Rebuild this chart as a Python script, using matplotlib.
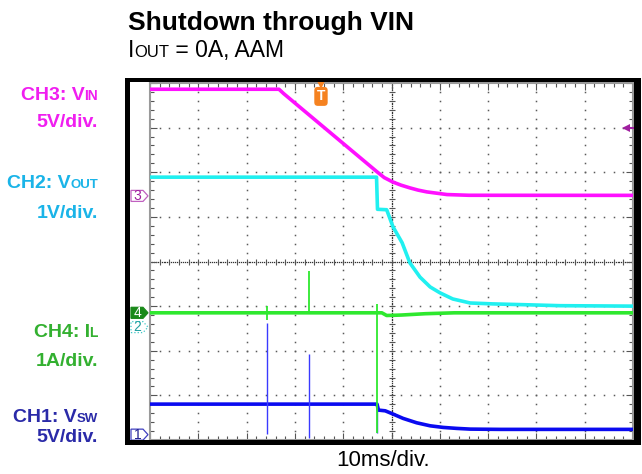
import numpy as np
import matplotlib
matplotlib.use("Agg")
import matplotlib.pyplot as plt
from matplotlib.patches import Rectangle, Polygon
from matplotlib.ticker import MultipleLocator
import matplotlib.transforms as mtransforms

plt.rcParams['font.family'] = ['Liberation Sans', 'DejaVu Sans']

# scope settings: 10 ms/div, 10 x 8 divisions
# channel offsets (div from bottom) and scales (unit per div)
ch3_off, ch3_scale = 5.47, 5.0   # VIN
ch2_off, ch2_scale = 2.53, 1.0   # VOUT
ch4_off, ch4_scale = 2.85, 1.0   # IL
ch1_off, ch1_scale = 0.12, 5.0   # VSW

# VIN (V)
vin_t = [0, 26.7, 27.7, 47.0, 48.5, 50.3, 52.0, 53.8, 55.5, 57.3, 61.5, 66.0, 100]
vin_v = [11.95, 11.95, 11.45, 2.7, 2.05, 1.55, 1.2, 0.9, 0.65, 0.45, 0.15, 0.07, 0.06]

# VOUT (V)
vout_t = [0, 46.9, 47.1, 49.0, 50.3, 52.2, 53.8, 55.9, 58.0, 60.0, 62.7, 66.3, 71.0, 78.1, 84.9, 100]
vout_v = [3.36, 3.36, 2.64, 2.63, 2.25, 1.89, 1.44, 1.12, 0.90, 0.77, 0.63, 0.54, 0.52, 0.50, 0.48, 0.47]

# IL (A)
il_t = [0, 47.0, 48.0, 49.0, 52.0, 57.0, 63.0, 100]
il_v = [0.0, 0.0, 0.0, -0.06, -0.05, -0.02, 0.0, 0.0]
il_spike_t = [24.2, 32.9, 47.0]
il_spike_lo = [-0.16, 0.0, -2.7]
il_spike_hi = [0.15, 0.94, 0.2]

# VSW (V)
vsw_t = [0, 47.0, 47.3, 48.7, 50.0, 52.4, 55.2, 58.0, 60.7, 63.5, 66.3, 72.5, 100]
vsw_v = [3.42, 3.42, 2.75, 2.67, 2.38, 1.82, 1.33, 0.99, 0.81, 0.70, 0.62, 0.59, 0.59]
vsw_spike_t = [24.2, 32.9, 47.0]
vsw_spike_lo = [0.06, -0.39, 0.17]
vsw_spike_hi = [12.47, 9.03, 3.42]

trig_t = 35.4
trig_level = 7.6   # CH3 trigger level (V)

W, H = 642, 474
fig = plt.figure(figsize=(W / 100, H / 100), dpi=100)
ax = fig.add_axes([150 / W, (H - 440) / H, 483 / W, 357 / H])
ax.set_xlim(0, 100)
ax.set_ylim(0, 8)

def ch(v, off, scale):
    return off + np.asarray(v) / scale

# graticule
grid_c = '#5a5a5a'
for gx in range(10, 100, 10):
    if gx == 50:
        continue
    yy = np.arange(0, 8.01, 0.2)
    ax.plot(np.full_like(yy, gx), yy, ls='none', marker='s', ms=1.1, color=grid_c, mew=0, zorder=1)
for gy in range(1, 8):
    if gy == 4:
        continue
    xx = np.arange(0, 100.01, 2)
    ax.plot(xx, np.full_like(xx, gy), ls='none', marker='s', ms=1.1, color=grid_c, mew=0, zorder=1)

# center crosshair
yy = np.arange(0, 8.001, 0.04)
ax.plot(np.full_like(yy, 50), yy, ls='none', marker='s', ms=0.9, color='#333333', mew=0, zorder=1)
xx = np.arange(0, 100.01, 0.4)
ax.plot(xx, np.full_like(xx, 4), ls='none', marker='s', ms=0.9, color='#333333', mew=0, zorder=1)
yt = np.arange(0, 8.001, 0.2)
ax.plot(np.full_like(yt, 50), yt, ls='none', marker='_', ms=5, color='#555555', mew=0.8, zorder=1)
xt = np.arange(0, 100.01, 2)
ax.plot(xt, np.full_like(xt, 4), ls='none', marker='|', ms=5, color='#555555', mew=0.8, zorder=1)

ax.xaxis.set_major_locator(MultipleLocator(10))
ax.xaxis.set_minor_locator(MultipleLocator(2))
ax.yaxis.set_major_locator(MultipleLocator(1))
ax.yaxis.set_minor_locator(MultipleLocator(0.2))
ax.tick_params(which='both', direction='in', top=True, right=True, color='#555555',
               labelbottom=False, labelleft=False)
ax.tick_params(which='major', length=5, width=0.8)
ax.tick_params(which='minor', length=3, width=0.8)
for s in ax.spines.values():
    s.set_color('#9a9a9a')
    s.set_linewidth(1.5)

# traces
lw = 2.6
ax.plot(vin_t, ch(vin_v, ch3_off, ch3_scale), color='#ff10ff', lw=lw, zorder=4, solid_joinstyle='round')
ax.plot(vout_t, ch(vout_v, ch2_off, ch2_scale), color='#20f0f0', lw=lw, zorder=4, solid_joinstyle='round')
ax.plot(vsw_t, ch(vsw_v, ch1_off, ch1_scale), color='#0a0af0', lw=lw, zorder=4, solid_joinstyle='round')
ax.vlines(vsw_spike_t, ch(vsw_spike_lo, ch1_off, ch1_scale), ch(vsw_spike_hi, ch1_off, ch1_scale),
          color='#3a3aff', lw=1.0, zorder=4)
ax.plot(il_t, ch(il_v, ch4_off, ch4_scale), color='#2ee82e', lw=lw, zorder=5, solid_joinstyle='round')
ax.vlines(il_spike_t, ch(il_spike_lo, ch4_off, ch4_scale), ch(il_spike_hi, ch4_off, ch4_scale),
          color='#2ee82e', lw=1.3, zorder=5)

# trigger markers
ax.plot([trig_t], [7.97], marker='v', ms=6.5, color='#f58220', mew=0, clip_on=False, zorder=6)
ax.text(trig_t, 7.70, 'T', ha='center', va='center', color='white', fontsize=10, weight='bold',
        bbox=dict(boxstyle='round,pad=0.18,rounding_size=0.25', fc='#f58220', ec='none'), zorder=6)
lvl = ch(trig_level, ch3_off, ch3_scale)
ax.plot([98.3, 100], [lvl, lvl], color='#a020a0', lw=1.5, zorder=6, clip_on=False)
ax.plot([98.6], [lvl], marker='<', ms=6, color='#a020a0', mew=0, zorder=6, clip_on=False)

# channel ground markers
blend = mtransforms.blended_transform_factory(ax.transAxes, ax.transData)
px = 1 / 483
py = 1 / 44.6
def ch_marker(y, num, fc, ec, tc, ls='-'):
    x0 = -19 * px
    h = 5.5 * py
    pts = [(x0, y - h), (x0 + 12 * px, y - h), (x0 + 17 * px, y), (x0 + 12 * px, y + h), (x0, y + h)]
    ax.add_patch(Polygon(pts, closed=True, transform=blend, fc=fc, ec=ec, lw=0.9, ls=ls,
                         clip_on=False, zorder=6))
    ax.text(x0 + 6.5 * px, y, num, transform=blend, ha='center', va='center', fontsize=10,
            color=tc, clip_on=False, zorder=7)

ch_marker(ch3_off, '3', 'white', '#c060c0', '#a0209f')
ch_marker(ch1_off, '1', 'white', '#4040c0', '#202090')
ch_marker(ch2_off, '2', 'white', '#40c8c8', '#20a0a0', ls=':')
ch_marker(ch4_off, '4', '#1a8a1a', '#1a8a1a', 'white')

# black frame round the screen
for (x0, y0, x1, y1) in [(125, 78, 130, 445), (634, 78, 641, 445), (125, 78, 641, 82), (125, 440, 641, 445)]:
    fig.add_artist(Rectangle((x0 / W, 1 - y1 / H), (x1 - x0) / W, (y1 - y0) / H,
                             transform=fig.transFigure, fc='black', ec='none', zorder=10))

# text with small-caps style subscripts
renderer = fig.canvas.get_renderer()
def rich_text(x, y, parts, align='left', color='black', weight='normal'):
    cur = x
    seq = parts if align == 'left' else parts[::-1]
    for txt, size in seq:
        t = fig.text(cur / W, 1 - y / H, txt, ha=align, va='baseline', fontsize=size,
                     color=color, weight=weight)
        wdt = t.get_window_extent(renderer).width
        cur = cur + wdt if align == 'left' else cur - wdt

rich_text(128, 30, [('Shutdown through VIN', 19)], weight='bold')
rich_text(128, 57, [('I', 16.5), ('OUT', 12), (' = 0A, AAM', 16.5)])

c3, c2, c4, c1 = '#f01ef0', '#1ab4e8', '#33b030', '#2a2aa8'
rich_text(98, 100, [('CH3: V', 14), ('IN', 10)], align='right', color=c3, weight='bold')
rich_text(98, 127, [('5V/div.', 14)], align='right', color=c3, weight='bold')
rich_text(98, 188, [('CH2: V', 14), ('OUT', 9.5)], align='right', color=c2, weight='bold')
rich_text(98, 218, [('1V/div.', 14)], align='right', color=c2, weight='bold')
rich_text(98, 337, [('CH4: I', 14), ('L', 10)], align='right', color=c4, weight='bold')
rich_text(98, 366, [('1A/div.', 14)], align='right', color=c4, weight='bold')
rich_text(98, 422, [('CH1: V', 14), ('SW', 9.5)], align='right', color=c1, weight='bold')
rich_text(98, 442, [('5V/div.', 14)], align='right', color=c1, weight='bold')

fig.text(383 / W, 1 - 466 / H, '10ms/div.', ha='center', va='baseline', fontsize=16)

fig.savefig('out.png', dpi=100)
